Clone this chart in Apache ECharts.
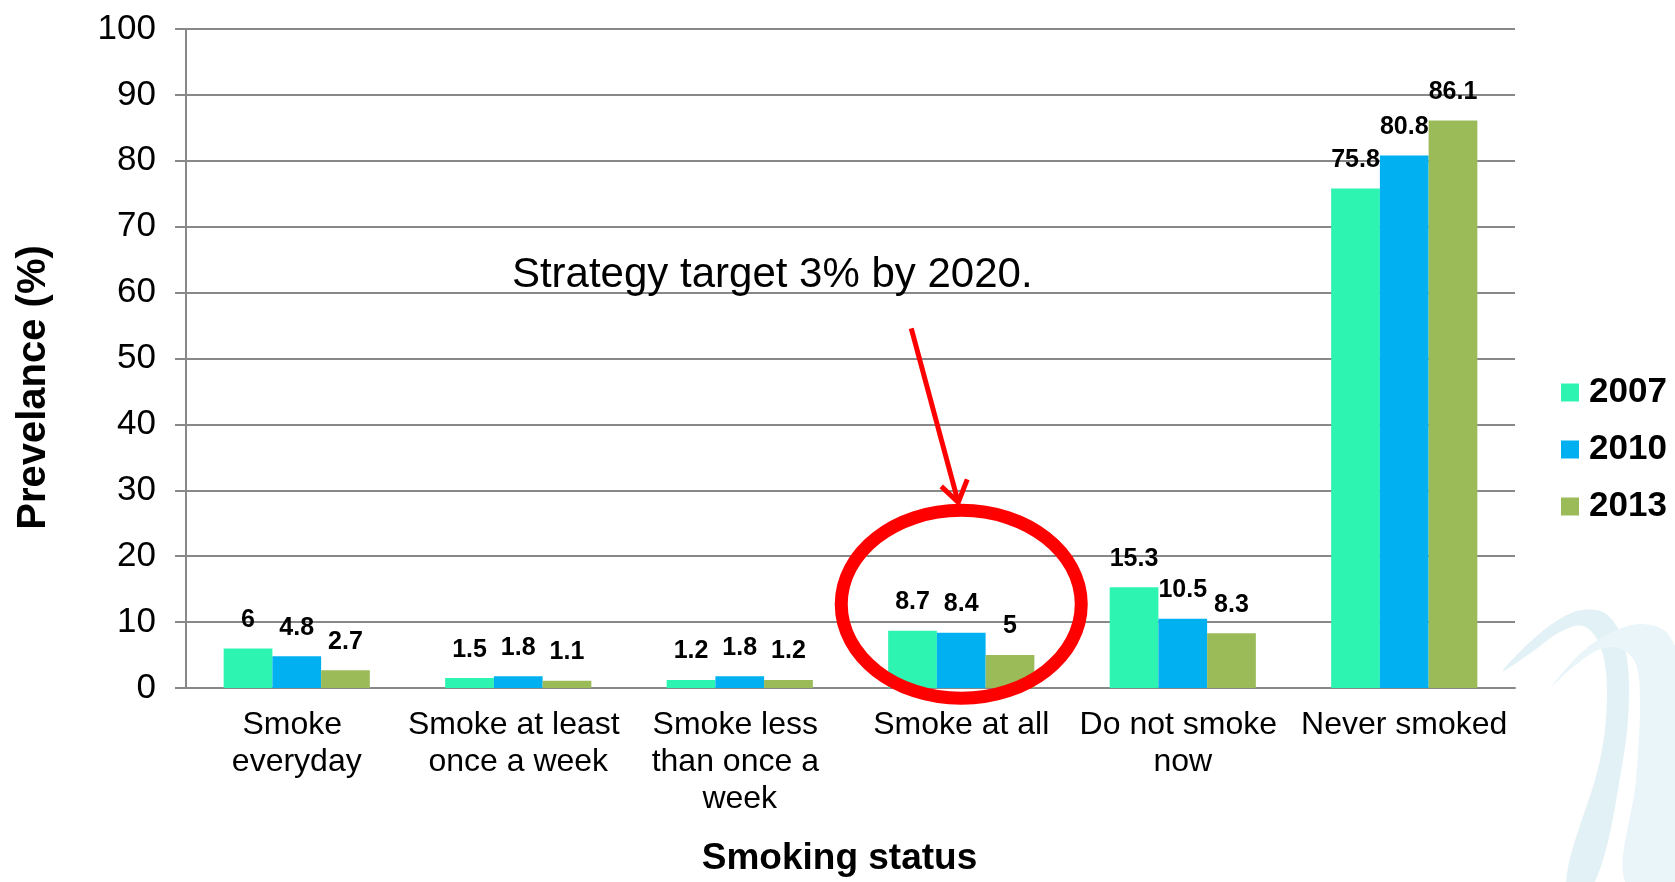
<!DOCTYPE html>
<html>
<head>
<meta charset="utf-8">
<script src="https://cdn.jsdelivr.net/npm/echarts@6/dist/echarts.min.js"></script>
<style>
  html, body { margin: 0; padding: 0; background: #fff; }
  #chart { width: 1675px; height: 882px; }
</style>
</head>
<body>
<div id="chart"></div>
<script>
// Smoking status prevalence by survey year
const categories = ['Smoke everyday', 'Smoke at least once a week', 'Smoke less than once a week',
  'Smoke at all', 'Do not smoke now', 'Never smoked'];
const years = ['2007', '2010', '2013'];
const values2007 = [6, 1.5, 1.2, 8.7, 15.3, 75.8];
const values2010 = [4.8, 1.8, 1.8, 8.4, 10.5, 80.8];
const values2013 = [2.7, 1.1, 1.2, 5, 8.3, 86.1];
const yearColors = ['#2EF4B1', '#00B0F0', '#9BBB59'];
const annotationText = 'Strategy target 3% by 2020.';
const highlightCategory = 'Smoke at all';

const FONT = '"Liberation Sans", Arial, sans-serif';
const chart = echarts.init(document.getElementById('chart'));

const seriesValues = [values2007, values2010, values2013];
const series = years.map((y, i) => ({
  name: y,
  type: 'bar',
  data: seriesValues[i],
  barGap: '0%',
  barCategoryGap: '34%',
  itemStyle: { color: yearColors[i] },
  label: {
    show: true,
    position: 'top',
    distance: 16,
    color: '#000',
    fontFamily: FONT,
    fontWeight: 'bold',
    fontSize: 25
  }
}));

chart.setOption({
  animation: false,
  backgroundColor: '#fff',
  grid: { left: 186, right: 160, top: 29, bottom: 193 },
  legend: {
    orient: 'vertical',
    left: 1556,
    top: 370,
    itemWidth: 18,
    itemHeight: 18,
    itemGap: 22,
    icon: 'rect',
    textStyle: { fontFamily: FONT, fontWeight: 'bold', fontSize: 35, color: '#000', padding: [0, 0, 0, 5] },
    data: years
  },
  xAxis: {
    type: 'category',
    data: categories,
    name: 'Smoking status',
    nameLocation: 'middle',
    nameGap: 152,
    nameTextStyle: { fontFamily: FONT, fontWeight: 'bold', fontSize: 37, color: '#000', padding: [0, 22, 0, 0] },
    axisLine: { lineStyle: { color: '#888', width: 2 } },
    axisTick: { show: false },
    axisLabel: {
      interval: 0,
      margin: 19,
      fontFamily: FONT,
      fontSize: 32,
      color: '#000',
      lineHeight: 37,
      width: 225,
      overflow: 'break'
    }
  },
  yAxis: {
    type: 'value',
    min: 0,
    max: 100,
    interval: 10,
    name: 'Prevelance (%)',
    nameLocation: 'middle',
    nameGap: 132,
    nameRotate: 90,
    nameTextStyle: { fontFamily: FONT, fontWeight: 'bold', fontSize: 40, color: '#000', padding: [0, 58, 0, 0] },
    axisLine: { show: true, lineStyle: { color: '#888', width: 2 } },
    axisTick: { show: true, length: 11, lineStyle: { color: '#888', width: 2 } },
    splitLine: { lineStyle: { color: '#888', width: 2 } },
    axisLabel: { margin: 30, fontFamily: FONT, fontSize: 35, color: '#000' }
  },
  series: series
});

// Annotation anchored to the highlighted category
const idx = categories.indexOf(highlightCategory);
const cx = chart.convertToPixel({ xAxisIndex: 0 }, idx);
const cy = chart.convertToPixel({ yAxisIndex: 0 }, 13);
const tipY = cy - 100;

// Pale swirl outlines (outer edge up and over, then inner edge back)
const swirlOuter = [
  [1503, 671], [1530, 642], [1558, 620], [1582, 610], [1606, 614], [1623, 640],
  [1629, 690], [1623, 760], [1594, 884], [1566, 884], [1600, 760], [1607, 692],
  [1600, 645], [1583, 626], [1560, 632], [1532, 652]
];
const swirlInner = [
  [1552, 686], [1582, 652], [1612, 632], [1642, 624], [1668, 634], [1684, 680],
  [1684, 884], [1626, 884], [1636, 780], [1640, 700], [1635, 662], [1618, 648],
  [1598, 650], [1572, 668]
];

chart.setOption({
  graphic: [
    {
      type: 'polygon', silent: true, z: -10,
      shape: { points: swirlOuter, smooth: 0.35 },
      style: { fill: '#e2f1f6', stroke: null }
    },
    {
      type: 'polygon', silent: true, z: -10,
      shape: { points: swirlInner, smooth: 0.35 },
      style: { fill: '#eaf5f9', stroke: null }
    },
    {
      type: 'ellipse', silent: true, z: 100,
      shape: { cx: cx, cy: cy + 2, rx: 120, ry: 94 },
      style: { stroke: '#FF0000', lineWidth: 13, fill: null }
    },
    {
      type: 'polyline', silent: true, z: 100,
      shape: { points: [[cx - 50, tipY - 174], [cx - 3, tipY]] },
      style: { stroke: '#FF0000', lineWidth: 5 }
    },
    {
      type: 'polyline', silent: true, z: 100,
      shape: { points: [[cx - 20, tipY - 16], [cx - 3, tipY], [cx + 6, tipY - 23]] },
      style: { stroke: '#FF0000', lineWidth: 5, fill: null }
    },
    {
      type: 'text', silent: true, z: 100,
      x: cx - 189, y: 275,
      style: {
        text: annotationText,
        fontFamily: FONT,
        fontSize: 42,
        fill: '#000',
        align: 'center',
        verticalAlign: 'middle'
      }
    }
  ]
});
</script>
</body>
</html>
